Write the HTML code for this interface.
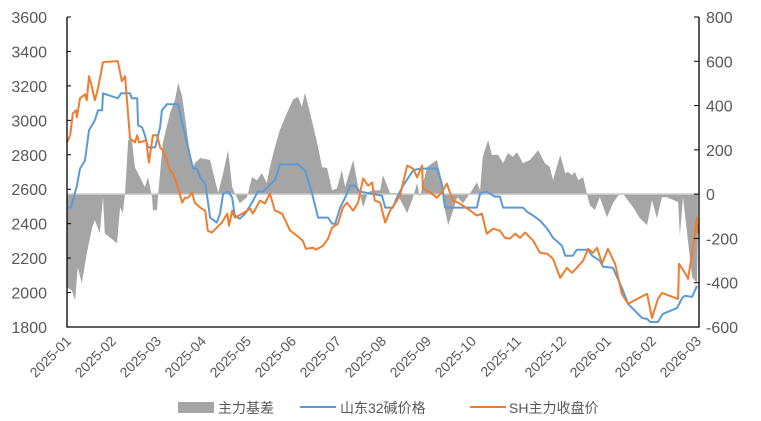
<!DOCTYPE html>
<html><head><meta charset="utf-8"><style>
body{margin:0;background:#fff}
svg{display:block;font-family:"Liberation Sans","Noto Sans CJK SC",sans-serif}
</style></head><body>
<svg id="chart" width="761" height="421" viewBox="0 0 761 421"></svg>
<script>
const monthLabels=["2025-01","2025-02","2025-03","2025-04","2025-05","2025-06","2025-07","2025-08","2025-09","2025-10","2025-11","2025-12","2026-01","2026-02","2026-03"];
const leftTicks=[1800,2000,2200,2400,2600,2800,3000,3200,3400,3600];
const rightTicks=[-600,-400,-200,0,200,400,600,800];
const blueT=[0,.09,.22,.29,.40,.49,.62,.69,.78,.80,1.13,1.20,1.40,1.44,1.56,1.58,1.67,1.73,1.80,1.96,2.07,2.11,2.22,2.47,2.58,2.69,2.80,2.89,2.96,3.07,3.13,3.18,3.33,3.40,3.47,3.58,3.67,3.73,3.84,3.96,4.11,4.24,4.36,4.51,4.62,4.73,5.13,5.29,5.44,5.58,5.80,5.89,5.96,6.07,6.18,6.29,6.40,6.51,7.00,7.07,7.24,7.33,7.47,7.69,7.84,8.22,8.33,8.40,9.11,9.18,9.33,9.51,9.62,9.69,10.13,10.22,10.36,10.51,10.67,10.80,11.00,11.07,11.24,11.33,11.58,11.67,11.84,11.91,12.13,12.33,12.47,12.58,12.78,12.89,12.96,13.13,13.24,13.56,13.67,13.73,13.89,14.00];
const blueV=[2493,2493,2621,2720,2767,2942,3000,3058,3058,3157,3128,3157,3157,3128,3128,2971,2959,2913,2843,2843,2959,3058,3093,3093,2959,2843,2720,2720,2668,2633,2534,2435,2406,2458,2575,2586,2551,2447,2429,2458,2522,2586,2586,2627,2651,2744,2744,2709,2581,2435,2435,2400,2400,2493,2551,2621,2621,2586,2563,2493,2493,2551,2621,2709,2720,2720,2633,2493,2493,2575,2586,2557,2557,2493,2493,2470,2447,2418,2371,2318,2272,2214,2214,2249,2249,2214,2185,2150,2144,2027,1934,1905,1852,1847,1829,1829,1876,1911,1969,1981,1975,2039];
const orangeT=[0,.07,.13,.20,.22,.29,.40,.44,.49,.56,.62,.69,.80,1.13,1.22,1.29,1.40,1.51,1.56,1.60,1.76,1.82,1.91,2.00,2.07,2.13,2.22,2.29,2.36,2.44,2.56,2.62,2.69,2.78,2.84,2.96,3.07,3.13,3.22,3.33,3.44,3.56,3.60,3.67,3.73,3.89,4.07,4.13,4.29,4.40,4.51,4.62,4.78,4.96,5.11,5.24,5.31,5.47,5.53,5.69,5.80,5.89,6.02,6.13,6.22,6.36,6.47,6.58,6.69,6.78,6.84,6.96,7.07,7.18,7.29,7.40,7.56,7.69,7.78,7.89,7.91,8.07,8.22,8.33,8.44,8.51,8.58,8.69,8.80,8.96,9.11,9.22,9.33,9.47,9.62,9.73,9.84,9.96,10.07,10.18,10.36,10.51,10.67,10.80,10.96,11.11,11.22,11.33,11.47,11.58,11.69,11.78,11.89,12.02,12.18,12.33,12.47,12.67,12.89,13.00,13.13,13.22,13.58,13.60,13.73,13.80,13.89,14.00,14.02];
const orangeV=[2872,2913,3041,3058,3017,3128,3151,3117,3256,3186,3117,3186,3338,3344,3227,3256,2895,2872,2913,2872,2884,2755,2913,2913,2843,2825,2767,2709,2691,2633,2522,2551,2551,2581,2522,2493,2476,2359,2348,2377,2406,2458,2388,2476,2435,2458,2487,2458,2534,2517,2575,2476,2458,2359,2330,2301,2254,2260,2249,2272,2313,2377,2400,2493,2522,2476,2522,2662,2621,2639,2534,2522,2406,2476,2517,2563,2738,2720,2668,2738,2604,2581,2551,2581,2633,2581,2534,2522,2505,2476,2447,2458,2342,2371,2359,2318,2313,2342,2318,2348,2301,2231,2225,2196,2085,2144,2115,2144,2185,2254,2231,2260,2167,2254,2167,1992,1934,1963,1992,1852,1963,1998,1963,2167,2115,2080,2225,2435,2342];
const basisT=[0,.11,.18,.24,.33,.44,.56,.62,.73,.80,.84,1.11,1.18,1.24,1.29,1.36,1.44,1.51,1.62,1.73,1.80,1.89,1.91,2.00,2.02,2.13,2.29,2.40,2.47,2.56,2.69,2.78,2.84,2.96,3.18,3.29,3.36,3.47,3.58,3.67,3.73,3.84,4.00,4.11,4.22,4.33,4.44,4.51,4.62,4.73,4.89,5.02,5.13,5.22,5.29,5.40,5.56,5.67,5.78,5.89,6.00,6.11,6.18,6.36,6.47,6.58,6.69,6.80,6.96,7.02,7.18,7.33,7.56,7.69,7.78,7.84,8.00,8.22,8.33,8.40,8.47,8.56,8.67,8.80,8.96,9.11,9.18,9.24,9.36,9.44,9.58,9.69,9.80,9.91,10.00,10.13,10.29,10.47,10.62,10.73,10.80,10.96,11.07,11.13,11.22,11.29,11.36,11.47,11.56,11.62,11.73,11.84,12.00,12.13,12.29,12.36,12.58,12.73,12.89,13.00,13.11,13.22,13.33,13.58,13.62,13.69,13.78,13.89,14.00,14.02];
const basisV=[-421,-435,-480,-331,-403,-267,-150,-118,-177,-14,-177,-222,-59,-86,5,245,245,122,77,32,77,-14,-72,-72,-14,231,367,426,503,440,245,109,140,163,154,63,5,95,199,32,5,-41,-14,77,63,95,50,122,213,290,367,426,440,394,458,367,231,122,118,18,27,109,32,154,32,-59,9,18,18,86,5,5,-86,-14,50,-14,122,154,63,-72,-140,-86,-14,-41,5,54,18,168,245,177,177,140,186,168,190,140,154,199,140,122,63,177,95,100,86,100,63,77,-5,-50,-72,-14,-104,-41,5,0,-59,-109,-140,-27,-109,-14,-14,-36,-186,-14,-177,-376,-399,-177];

const NS="http://www.w3.org/2000/svg";
const svg=document.getElementById('chart');
const X0=67,X1=697,YT=17,YB=327;
const xs=t=>X0+t*(X1-X0)/14;
const yl=v=>YB-(v-1800)/1800*(YB-YT);
const yr=v=>YB-(v+600)/1400*(YB-YT);
function mk(tag,attrs){const e=document.createElementNS(NS,tag);for(const k in attrs)e.setAttribute(k,attrs[k]);svg.appendChild(e);return e;}

// basis area
let d='M'+xs(basisT[0])+','+yr(0);
basisT.forEach((t,i)=>{d+=' L'+xs(t).toFixed(1)+','+yr(basisV[i]).toFixed(1);});
d+=' L'+xs(basisT[basisT.length-1])+','+yr(0)+' Z';
const area=mk('path',{d:d,fill:'#a5a5a5',stroke:'none'});


const zl=mk('line',{x1:X0,x2:X1,y1:yr(0),y2:yr(0),stroke:'#c8c8c8','stroke-width':1.5});



function line(T,V,color,name){
  const p=T.map((t,i)=>xs(t).toFixed(1)+','+yl(V[i]).toFixed(1)).join(' ');
  const e=mk('polyline',{points:p,fill:'none',stroke:color,'stroke-width':2,'stroke-linejoin':'round'});
  
  
}
line(blueT,blueV,'#5b9bd5','shandong-price-line');
line(orangeT,orangeV,'#ed7d31','sh-close-line');

// axes
const ax=mk('path',{d:`M${X0},${YT} V${YB} H${X1+2} V${YT}`,fill:'none',stroke:'#000','stroke-width':1.3});


leftTicks.forEach(v=>{
  mk('line',{x1:X0,x2:X0+4,y1:yl(v),y2:yl(v),stroke:'#000'});
  const t=mk('text',{x:47,y:yl(v)+6,'text-anchor':'end','font-size':16,fill:'#595959'});
  t.textContent=v;
  
  
});
rightTicks.forEach(v=>{
  mk('line',{x1:X1-3,x2:X1+2,y1:yr(v),y2:yr(v),stroke:'#000'});
  const t=mk('text',{x:706,y:yr(v)+6,'font-size':16,fill:'#595959'});
  t.textContent=v;
  
  
});
monthLabels.forEach((m,i)=>{
  const x=xs(i)+5,y=342;
  const t=mk('text',{x:x,y:y,'text-anchor':'end','font-size':14,fill:'#595959',transform:`rotate(-45 ${x} ${y})`});
  t.textContent=m;
  
  
});
</script>
<svg style="position:absolute;left:0;top:0" width="761" height="421">
  <g>
    <rect x="178" y="402" width="36" height="11" fill="#a5a5a5"/>
    <text x="218" y="413" font-size="14" fill="#595959" font-family="Liberation Sans, Noto Sans CJK SC, sans-serif">主力基差</text>
  </g>
  <g>
    <line x1="300" x2="336" y1="407" y2="407" stroke="#5b9bd5" stroke-width="2"/>
    <text x="340" y="413" font-size="14" fill="#595959" font-family="Liberation Sans, Noto Sans CJK SC, sans-serif">山东32碱价格</text>
  </g>
  <g>
    <line x1="470" x2="506" y1="407" y2="407" stroke="#ed7d31" stroke-width="2"/>
    <text x="509" y="413" font-size="14" fill="#595959" font-family="Liberation Sans, Noto Sans CJK SC, sans-serif">SH主力收盘价</text>
  </g>
</svg>
</body></html>
